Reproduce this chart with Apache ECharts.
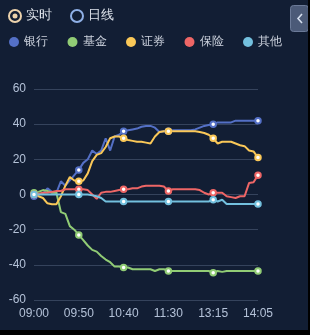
<!DOCTYPE html>
<html><head><meta charset="utf-8">
<script src="https://cdn.jsdelivr.net/npm/echarts@6/dist/echarts.min.js"></script>
<style>html,body{margin:0;padding:0;background:#000;}#c{width:308px;height:330px;background:#121e34;}</style>
</head><body><div id="c"></div>
<script>
var categories = ['09:00','09:05','09:10','09:15','09:20','09:25','09:30','09:35','09:40','09:45',
           '09:50','09:55','10:00','10:05','10:10','10:15','10:20','10:25','10:30','10:35',
           '10:40','10:45','10:50','10:55','11:00','11:05','11:10','11:15','11:20','11:25',
           '11:30','12:30','12:35','12:40','12:45','12:50','12:55','13:00','13:05','13:10',
           '13:15','13:20','13:25','13:30','13:35','13:40','13:45','13:50','13:55','14:00','14:05'];
var seriesNames = ['银行','基金','证券','保险','其他'];
var bank = [-1,0,0.5,3.5,1.5,1,7.5,5,8,11, 14,18,20,25,23,25,32,25,33,34, 36,36.5,37,37.5,38.5,39,39,38,35.5,36, 36,36.5,36.5,36.5,36.5,36.5,37,38,39,39.5, 40,41,41,41,41,42,42,42,42,42,42];
var fund = [1,1.5,2.5,2,1,1,-10,-11,-18,-20, -23,-26,-29,-31.5,-32.5,-35,-37,-38.5,-41,-41, -41.5,-41.5,-42.5,-42.5,-42.5,-42.5,-42.5,-43.5,-42.5,-42.5, -43.5,-43.5,-43.5,-43.5,-43.5,-43.5,-43.5,-43.5,-43.5,-43.5, -44.5,-43.5,-44,-43.5,-43.5,-43.5,-43.5,-43.5,-43.5,-43.5,-43.5];
var securities = [0,-1,-2,-5,-5.5,-5.5,-1,5,10,8, 7.5,8,12,19,22.5,23.5,27,32,33,33, 32,31,30.5,30,30,29.5,29,33,35.5,36, 36,36,36,36,36,36,36,35.5,35,34, 32,29,30,30,30,29,28,27.5,25,24.5,21];
var insurance = [0,0.5,1,1,1.5,2,2,3,3,3, 3,3,2.5,0,-2.5,1,1.5,1.5,2,2.5, 3,3,3.5,3.5,4.5,5,5,5,5,4.5, 2,3,3,3,3,3,3,2.5,1,0, 1,1,1,-1,-1.5,-2,-1,-1,6.5,7,11];
var other = [0,0,0,0,0,0,0,0,0,0, 0,0,0,-0.5,-1,-2,-4,-4,-4,-4, -4,-4,-4,-4,-4,-4,-4,-4,-4,-4, -4,-4,-4,-4,-4,-4,-4,-4,-4,-4, -3,-4,-3,-5.4,-5.4,-5.4,-5.4,-5.4,-5.4,-5.4,-5.4];
var yTicks = {min:-60, max:60, interval:20};
var colors = ['#5470c6','#91cc75','#fac858','#ee6666','#73c0de'];
var dataList = [bank, fund, securities, insurance, other];

var chart = echarts.init(document.getElementById('c'));
var series = seriesNames.map(function(n,i){
  return {
    name:n, type:'line', data:dataList[i], symbol:'emptyCircle', symbolSize:5.5,
    lineStyle:{width:2}, itemStyle:{color:colors[i]}
  };
});
chart.setOption({
  backgroundColor:'#121e34',
  animation:false,
  color:colors,
  legend:{
    data:seriesNames, top:31, left:4, icon:'circle', itemWidth:10, itemHeight:10, itemGap:19.5,
    textStyle:{color:'#cdd3de', fontSize:12}
  },
  grid:{left:34, right:50, top:89, bottom:30},
  xAxis:{
    type:'category', data:categories, boundaryGap:false,
    axisLine:{show:false}, axisTick:{show:false},
    axisLabel:{interval:9, color:'#b4c2d8', fontSize:12, margin:8}
  },
  yAxis:{
    type:'value', min:yTicks.min, max:yTicks.max, interval:yTicks.interval,
    axisLine:{show:false}, axisTick:{show:false},
    axisLabel:{color:'#b4c2d8', fontSize:12, margin:8},
    splitLine:{lineStyle:{color:'#35435c', width:1}}
  },
  graphic:[
    {type:'circle', shape:{cx:15, cy:16, r:6}, style:{fill:'none', stroke:'#ecd2ac', lineWidth:2}},
    {type:'circle', shape:{cx:15, cy:16, r:2.5}, style:{fill:'#ecd2ac'}},
    {type:'text', left:26, top:9, style:{text:'实时', fill:'#dfe4ec', fontSize:13}},
    {type:'circle', shape:{cx:77, cy:16, r:6}, style:{fill:'none', stroke:'#8fb0e6', lineWidth:2}},
    {type:'text', left:88, top:9, style:{text:'日线', fill:'#dfe4ec', fontSize:13}},
    {type:'rect', shape:{x:290.5, y:5.5, width:18, height:26, r:3}, style:{fill:'#4b5a78', stroke:'#6b7a98', lineWidth:1}},
    {type:'polyline', shape:{points:[[302,14],[298,18.5],[302,23]]}, style:{fill:'none', stroke:'#d4deee', lineWidth:1.6}}
  ],
  series:series
});
</script></body></html>
